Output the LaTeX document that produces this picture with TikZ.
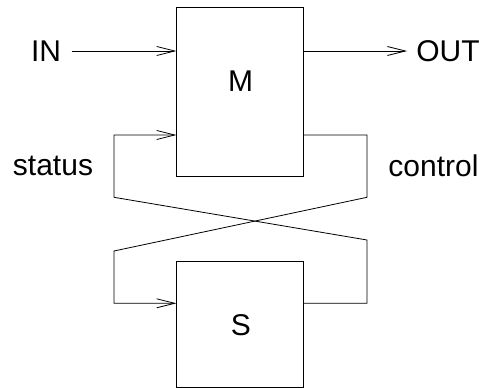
\documentclass[tikz,border=0pt]{standalone}
\usepackage{fontspec}
\setmainfont{Liberation Sans}
\usetikzlibrary{arrows.meta}
\begin{document}
\begin{tikzpicture}[x=1pt,y=-1pt,
  every node/.style={font=\fontsize{30}{36}\selectfont, inner sep=0pt},
  box/.style={draw, line width=0.8pt, minimum width=126.6pt},
  flow/.style={line width=0.8pt},
  tip/.style={-{Straight Barb[length=18pt,width=9pt,line width=0.8pt]}}]
\useasboundingbox (0,0) rectangle (483,388);

% the two blocks
\node[box, minimum height=169.4pt] (Mbox) at (240,92) {};
\node[box, minimum height=126pt] (Sbox) at (240,324) {};
\node[anchor=base] (M) at (240.5,91.7) {M};
\node[anchor=base] (S) at (241,335) {S};

% external signals
\node[anchor=base] (in) at (46,61) {IN};
\node[anchor=base] (out) at (448,61) {OUT};
\coordinate (inTail) at (71.7,51);
\coordinate (outHead) at (407,51);
\draw[flow,tip] (inTail) -- (inTail -| Mbox.west);
\draw[flow,tip] (outHead -| Mbox.east) -- (outHead);

% feedback labels
\node[anchor=base] (status) at (53,175.5) {status};
\node[anchor=base] (control) at (433.5,176) {control};

% routing corners
\coordinate (mPort) at (0,135);
\coordinate (sPort) at (0,303.3);
\coordinate (rTop) at (367,135);
\coordinate (rMid) at (367,197.3);
\coordinate (rLow) at (367,240);
\coordinate (rBot) at (367,303.3);
\coordinate (lTop) at (114,135);
\coordinate (lMid) at (114,197.3);
\coordinate (lLow) at (114,251);
\coordinate (lBot) at (114,303.3);

% control: M -> S
\draw[flow,tip] (Mbox.east |- mPort) -- (rTop) -- (rMid) -- (lLow) -- (lBot) -- (Sbox.west |- sPort);
% status: S -> M
\draw[flow,tip] (Sbox.east |- sPort) -- (rBot) -- (rLow) -- (lMid) -- (lTop) -- (Mbox.west |- mPort);
\end{tikzpicture}
\end{document}
